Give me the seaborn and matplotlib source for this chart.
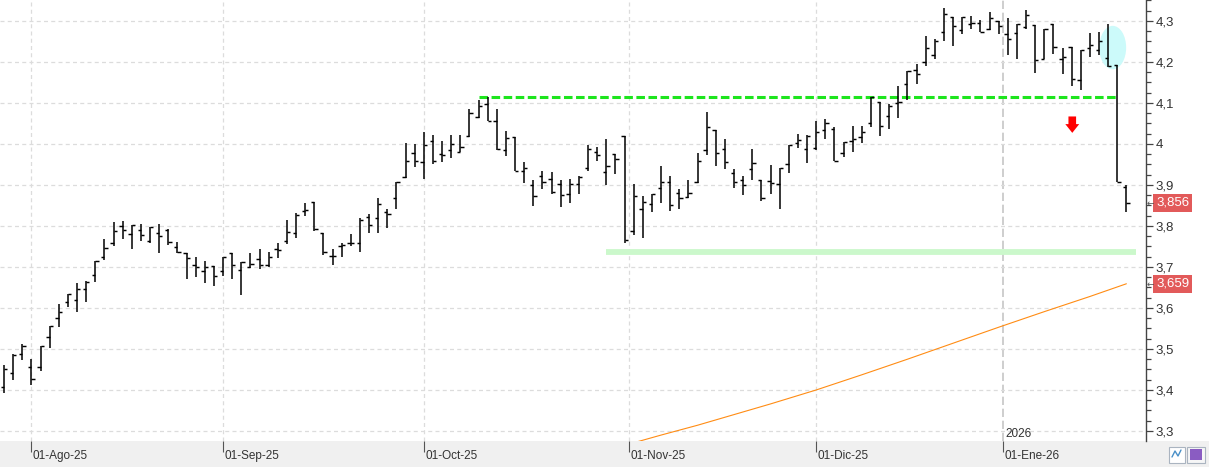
import numpy as np
import matplotlib
matplotlib.use("Agg")
import matplotlib.pyplot as plt
import matplotlib.transforms as mtrans
import seaborn as sns
from matplotlib.patches import Ellipse, Rectangle
from matplotlib.ticker import MultipleLocator, FuncFormatter

# daily OHLC bars (one entry per session)
OPEN = [3.407, 3.441, 3.487, 3.455, 3.455, 3.528, 3.575, 3.614, 3.620, 3.646,
        3.680, 3.724, 3.758, 3.800, 3.780, 3.790, 3.763, 3.784, 3.790, 3.748,
        3.733, 3.704, 3.689, 3.702, 3.689, 3.733, 3.692, 3.700, 3.720, 3.704,
        3.743, 3.763, 3.784, 3.837, 3.858, 3.783, 3.727, 3.751, 3.759, 3.759,
        3.822, 3.820, 3.834, 3.867, 3.920, 3.978, 3.957, 4.006, 3.976, 3.984,
        3.980, 4.019, 4.065, 4.098, 4.056, 3.984, 4.017, 3.935, 3.900, 3.922,
        3.915, 3.902, 3.878, 3.902, 3.941, 3.980, 3.932, 3.976, 4.019, 3.788,
        3.841, 3.854, 3.893, 3.907, 3.880, 3.870, 3.908, 3.986, 4.033, 3.987,
        3.929, 3.911, 3.938, 3.911, 3.909, 3.902, 3.951, 4.002, 3.987, 3.989,
        4.033, 4.037, 3.977, 4.008, 4.018, 4.051, 4.103, 4.067, 4.099, 4.146,
        4.180, 4.200, 4.218, 4.272, 4.310, 4.279, 4.293, 4.295, 4.280, 4.300,
        4.267, 4.270, 4.285, 4.291, 4.207, 4.293, 4.207, 4.237, 4.155, 4.233,
        4.230, 4.210, 4.192, 3.895]
HIGH = [3.461, 3.487, 3.511, 3.476, 3.507, 3.557, 3.609, 3.635, 3.660, 3.665,
        3.714, 3.767, 3.809, 3.811, 3.802, 3.804, 3.797, 3.804, 3.792, 3.760,
        3.733, 3.724, 3.714, 3.702, 3.724, 3.734, 3.711, 3.735, 3.744, 3.737,
        3.759, 3.815, 3.832, 3.856, 3.858, 3.783, 3.744, 3.759, 3.780, 3.820,
        3.829, 3.867, 3.841, 3.907, 4.003, 4.001, 4.028, 4.023, 4.008, 4.023,
        4.023, 4.085, 4.108, 4.115, 4.086, 4.032, 4.017, 3.956, 3.913, 3.935,
        3.931, 3.913, 3.914, 3.922, 3.998, 3.992, 4.011, 3.976, 4.019, 3.902,
        3.873, 3.879, 3.947, 3.922, 3.891, 3.911, 3.978, 4.077, 4.033, 4.011,
        3.939, 3.923, 3.987, 3.911, 3.949, 3.941, 3.998, 4.024, 4.022, 4.056,
        4.061, 4.041, 4.004, 4.044, 4.044, 4.114, 4.103, 4.097, 4.141, 4.178,
        4.195, 4.262, 4.255, 4.332, 4.310, 4.310, 4.313, 4.302, 4.322, 4.300,
        4.306, 4.292, 4.327, 4.291, 4.281, 4.293, 4.234, 4.237, 4.230, 4.271,
        4.273, 4.293, 4.192, 3.899]
LOW = [3.392, 3.424, 3.473, 3.412, 3.447, 3.503, 3.554, 3.603, 3.589, 3.614,
       3.664, 3.717, 3.750, 3.767, 3.743, 3.764, 3.758, 3.733, 3.754, 3.733,
       3.670, 3.676, 3.660, 3.654, 3.679, 3.670, 3.631, 3.698, 3.696, 3.699,
       3.722, 3.756, 3.771, 3.824, 3.788, 3.728, 3.704, 3.724, 3.751, 3.737,
       3.784, 3.783, 3.795, 3.841, 3.917, 3.943, 3.914, 3.951, 3.956, 3.966,
       3.980, 4.017, 4.063, 4.056, 3.985, 3.971, 3.935, 3.904, 3.849, 3.889,
       3.879, 3.846, 3.855, 3.877, 3.934, 3.958, 3.900, 3.927, 3.759, 3.777,
       3.770, 3.833, 3.855, 3.836, 3.841, 3.868, 3.904, 3.974, 3.947, 3.940,
       3.893, 3.876, 3.913, 3.860, 3.879, 3.841, 3.930, 3.989, 3.954, 3.986,
       4.011, 3.959, 3.967, 3.980, 4.002, 4.041, 4.020, 4.037, 4.064, 4.106,
       4.147, 4.189, 4.207, 4.250, 4.238, 4.267, 4.281, 4.273, 4.277, 4.267,
       4.216, 4.207, 4.280, 4.173, 4.207, 4.220, 4.170, 4.141, 4.131, 4.212,
       4.218, 4.188, 3.906, 3.834]
CLOSE = [3.450, 3.485, 3.507, 3.428, 3.507, 3.557, 3.591, 3.633, 3.646, 3.663,
         3.714, 3.746, 3.787, 3.790, 3.802, 3.778, 3.797, 3.776, 3.760, 3.737,
         3.721, 3.699, 3.699, 3.678, 3.724, 3.706, 3.711, 3.708, 3.706, 3.724,
         3.742, 3.785, 3.826, 3.840, 3.792, 3.737, 3.727, 3.754, 3.759, 3.815,
         3.803, 3.854, 3.829, 3.907, 3.959, 3.959, 3.998, 3.959, 3.972, 4.000,
         3.993, 4.076, 4.093, 4.056, 3.987, 4.015, 3.935, 3.941, 3.873, 3.907,
         3.882, 3.875, 3.902, 3.919, 3.987, 3.973, 3.947, 3.963, 3.766, 3.873,
         3.859, 3.879, 3.907, 3.851, 3.868, 3.880, 3.958, 4.041, 3.977, 3.955,
         3.907, 3.900, 3.953, 3.867, 3.905, 3.941, 3.998, 4.009, 4.020, 4.029,
         4.050, 3.959, 4.004, 4.012, 4.030, 4.114, 4.043, 4.093, 4.102, 4.178,
         4.170, 4.233, 4.251, 4.316, 4.288, 4.310, 4.295, 4.273, 4.306, 4.288,
         4.255, 4.292, 4.314, 4.204, 4.281, 4.237, 4.212, 4.159, 4.230, 4.241,
         4.251, 4.190, 3.906, 3.856]

# month starts (session index) and their labels
MONTH_POS = [3, 24, 46, 68.5, 89, 109.5]
MONTH_LABELS = ["01-Ago-25", "01-Sep-25", "01-Oct-25", "01-Nov-25", "01-Dic-25", "01-Ene-26"]
YEAR_POS = 109.5
YEAR_LABEL = "2026"

# long moving average (orange)
MA_IDX = [68, 72, 76, 80, 84, 89, 94, 99, 104, 109, 114, 119, 123]
MA_VAL = [3.265, 3.290, 3.314, 3.340, 3.366, 3.400, 3.437, 3.475, 3.514, 3.553, 3.591, 3.628, 3.659]

# drawn levels
RESIST = 4.115
RESIST_FROM, RESIST_TO = 52, 122
SUPPORT = 3.737
SUPPORT_FROM, SUPPORT_TO = 66, 124
LAST_PRICE = 3.856
LAST_MA = 3.659


def fmt_price(v, _=None):
    s = f"{v:.3f}".rstrip("0").rstrip(".")
    return s.replace(".", ",")


sns.set_style("white")
plt.rcParams["font.family"] = ["Liberation Sans", "DejaVu Sans"]

W, H = 1209, 467
fig = plt.figure(figsize=(W / 100, H / 100), dpi=100)
fig.patches.append(Rectangle((0, 0), 1, 26 / H, transform=fig.transFigure,
                             fc="#f0f0f0", ec="none", zorder=-5))
ax = fig.add_axes([0, 26 / H, 1146 / W, 441 / H])

x = np.arange(len(CLOSE))
tick = 0.36

# grid
for p in MONTH_POS:
    if p == YEAR_POS:
        ax.axvline(p, color="#c6c6c6", lw=1.2, ls=(0, (5, 2.2)), zorder=0)
    else:
        ax.axvline(p, color="#dcdcdc", lw=0.9, ls=(0, (3.2, 2.6)), zorder=0)
ax.grid(axis="y", which="major", color="#dcdcdc", lw=0.9, ls=(0, (3.2, 2.6)))
ax.set_axisbelow(True)

# support band and resistance line
ax.hlines(SUPPORT, SUPPORT_FROM, SUPPORT_TO, color="#cbf8cb", lw=4.2, zorder=1)
ax.hlines(RESIST, RESIST_FROM, RESIST_TO, color="#1de51d", lw=2.2,
          linestyles=(0, (2.8, 1.15)), zorder=3)

# highlight ellipse and red arrow
ax.add_patch(Ellipse((121.5, 4.235), 2.95, 0.106, fc="#ccfafa", ec="none", zorder=1))
ax.annotate("", xy=(117.07, 4.027), xytext=(117.07, 4.067),
            arrowprops=dict(arrowstyle="simple,head_width=1.0,head_length=0.63,tail_width=0.55",
                            fc="#ff0000", ec="none", shrinkA=0, shrinkB=0), zorder=4)

# moving average
sns.lineplot(x=MA_IDX, y=MA_VAL, ax=ax, color="#ff8c14", lw=0.8, zorder=2)

# OHLC bars
ax.vlines(x, LOW, HIGH, color="black", lw=1.1, zorder=5)
ax.hlines(OPEN, x - tick, x, color="black", lw=1.05, zorder=5)
ax.hlines(CLOSE, x, x + tick, color="black", lw=1.05, zorder=5)

ax.set_xlim(-0.44, 125.15)
ax.set_ylim(3.2756, 4.351)

# axes styling
for s in ["top", "left", "bottom"]:
    ax.spines[s].set_visible(False)
ax.spines["right"].set_color("#444444")
ax.spines["right"].set_linewidth(1.0)

ax.yaxis.tick_right()
ax.yaxis.set_major_locator(MultipleLocator(0.1))
ax.yaxis.set_minor_locator(MultipleLocator(0.025))
ax.yaxis.set_major_formatter(FuncFormatter(fmt_price))
ax.tick_params(axis="y", which="major", direction="out", length=5, width=0.9,
               color="#444444", labelsize=9.5, labelcolor="#333333", pad=2)
ax.tick_params(axis="y", which="minor", right=True, direction="out", length=3.5,
               width=0.9, color="#444444")

ax.set_xticks(MONTH_POS, MONTH_LABELS)
ax.tick_params(axis="x", bottom=True, direction="out", length=8, width=0.8,
               color="#555555", labelsize=8.5, labelcolor="#333333", pad=-1.5)
shift = mtrans.ScaledTranslation(1.5 / 100, 0, fig.dpi_scale_trans)
for lab in ax.get_xticklabels():
    lab.set_ha("left")
    lab.set_transform(lab.get_transform() + shift)
ax.set_xlabel("")
ax.set_ylabel("")

ax.text(YEAR_POS + 0.2, 3.279, YEAR_LABEL, fontsize=8.5, color="#333333",
        ha="left", va="bottom")

# price tags on the right axis
blend = mtrans.blended_transform_factory(ax.transAxes, ax.transData)
for v in [LAST_PRICE, LAST_MA]:
    ax.text(1.0088, v, fmt_price(v), transform=blend, ha="left", va="center",
            fontsize=9.5, color="white", clip_on=False,
            bbox=dict(boxstyle="square,pad=0.22", fc="#e25a5a", ec="none"))
    ax.text(1.0005, v, "\u2190", transform=blend, ha="left", va="center",
            fontsize=6.5, color="#555555", clip_on=False,
            family=["DejaVu Sans"])

# small toolbar icons bottom right
px = lambda a, b: (a / W, 1 - b / H)
fig.patches.append(Rectangle(px(1169, 463), 16 / W, 16 / H, transform=fig.transFigure,
                             fc="white", ec="#aab4c0", lw=0.8))
fig.patches.append(Rectangle(px(1187, 463), 18 / W, 16 / H, transform=fig.transFigure,
                             fc="#f6f6f6", ec="#aab4c0", lw=0.8))
fig.patches.append(Rectangle(px(1190, 460), 12 / W, 11 / H, transform=fig.transFigure,
                             fc="#8a5cc2", ec="none"))
fig.lines.append(plt.Line2D([1172 / W, 1175 / W, 1178 / W, 1181 / W],
                            [1 - 457 / H, 1 - 451 / H, 1 - 456 / H, 1 - 450 / H],
                            transform=fig.transFigure, color="#4a90c8", lw=1.0))

fig.savefig("out.png", dpi=100)
